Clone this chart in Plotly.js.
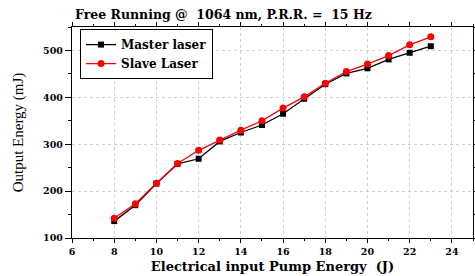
<!DOCTYPE html>
<html><head><meta charset="utf-8">
<script src="https://cdn.plot.ly/plotly-3.0.1.min.js"></script>
<style>html,body{margin:0;padding:0;background:#fff}#chart{width:475px;height:276px}</style>
</head><body><div id="chart"></div>
<script>
const pumpEnergy = [8, 9, 10, 11, 12, 13, 14, 15, 16, 17, 18, 19, 20, 21, 22, 23];
const masterLaser = [136, 170, 216, 258, 269, 306, 325, 341, 365, 397, 428, 451, 462, 481, 495, 509];
const slaveLaser = [142, 173, 217, 259, 287, 309, 330, 350, 377, 401, 430, 455, 471, 489, 512, 529];
const xTicks = [6, 8, 10, 12, 14, 16, 18, 20, 22, 24];
const yTicks = [100, 200, 300, 400, 500];

const serifB = "DejaVu Serif";
const traces = [
  {x: pumpEnergy, y: masterLaser, name: "Master laser", mode: "lines+markers",
   line: {color: "#000000", width: 1.3}, marker: {symbol: "square", size: 6, color: "#000000"}},
  {x: pumpEnergy, y: slaveLaser, name: "Slave Laser", mode: "lines+markers",
   line: {color: "#ff0000", width: 1.3}, marker: {symbol: "circle", size: 7, color: "#ff0000"}}
];
const layout = {
  width: 475, height: 276,
  margin: {l: 72, r: 2, t: 27, b: 38},
  paper_bgcolor: "#ffffff", plot_bgcolor: "#ffffff",
  showlegend: true,
  title: {text: "<b>Free Running @  1064 nm, P.R.R. =  15 Hz</b>", font: {family: serifB, size: 12.5, color: "#000"},
          xref: "container", x: 75/475, xanchor: "left", yref: "container", y: 1 - 15/276, yanchor: "middle"},
  xaxis: {range: [6, 25], tickvals: xTicks, ticks: "outside", ticklen: 4, tickwidth: 1, tickcolor: "#000",
          minor: {dtick: 1, ticks: "outside", ticklen: 2, tickcolor: "#000", showgrid: false},
          showline: true, linecolor: "#000", linewidth: 1.2, mirror: "ticks",
          showgrid: true, gridcolor: "#d0d0d0", griddash: "dot", gridwidth: 1, zeroline: false,
          tickfont: {family: serifB, size: 9.5, color: "#000", weight: "bold"},
          title: {text: "<b>Electrical input Pump Energy  (J)</b>", font: {family: serifB, size: 13, color: "#000"}, standoff: 6}},
  yaxis: {range: [100, 550], tickvals: yTicks, ticks: "outside", ticklen: 6, tickwidth: 1, tickcolor: "#000",
          minor: {dtick: 50, ticks: "outside", ticklen: 3, tickcolor: "#000", showgrid: false},
          showline: true, linecolor: "#000", linewidth: 1.2, mirror: "ticks",
          showgrid: true, gridcolor: "#d0d0d0", griddash: "dot", gridwidth: 1, zeroline: false,
          tickfont: {family: serifB, size: 9.5, color: "#000", weight: "bold"},
          title: {text: "Output Energy (mJ)", font: {family: "Liberation Serif", size: 15, color: "#000"}, standoff: 15}},
  legend: {x: 0.02, y: 0.99, xanchor: "left", yanchor: "top", bgcolor: "#ffffff", bordercolor: "#000", borderwidth: 1,
           font: {family: serifB, size: 12, color: "#000", weight: "bold"}, tracegroupgap: 0, itemwidth: 30}
};
Plotly.newPlot("chart", traces, layout, {displayModeBar: false, staticPlot: true});
</script></body></html>
